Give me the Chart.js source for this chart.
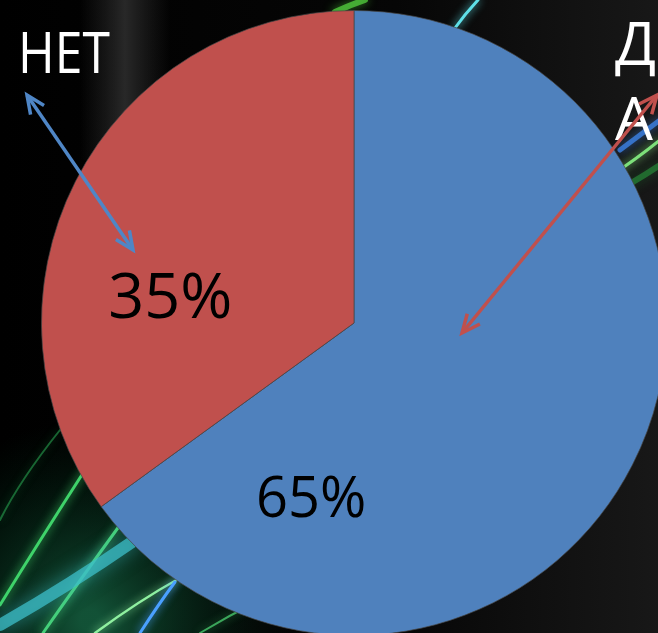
<!DOCTYPE html>
<html><head><meta charset="utf-8">
<script src="https://cdn.jsdelivr.net/npm/chart.js@4.4.0/dist/chart.umd.min.js"></script>
<style>
html,body{margin:0;padding:0;background:#000;overflow:hidden;width:658px;height:633px;}
#wrap{position:absolute;left:0;top:0;width:720px;height:660px;}
</style></head><body>
<div id="wrap"><canvas id="c"></canvas></div>
<script>
// ---- data ----
const categories = ['ДА', 'НЕТ'];
const shares = [65, 35];
const percentLabels = ['65%', '35%'];

// ---- styles / layout (not data) ----
const sliceColors = ['#4f81bd', '#c0504d'];
const arrowColors = ['#c0504d', '#4f86c6'];
const FONT = '"Open Sans", "Noto Sans", sans-serif';
// offsets relative to pie centre, in units of radius
const pctPos = [ {dx: -0.137, dy: 0.556, size: 56}, {dx: -0.588, dy: -0.09, size: 63} ];

function drawBackground(ctx, w, h) {
  const g = ctx.createLinearGradient(0, 0, w, 0);
  g.addColorStop(0, '#000');
  g.addColorStop(0.55, '#060606');
  g.addColorStop(1, '#1c1c1c');
  ctx.fillStyle = g;
  ctx.fillRect(0, 0, w, h);
  // soft grey vertical glow at top
  const gg = ctx.createLinearGradient(80, 0, 170, 0);
  gg.addColorStop(0, 'rgba(60,60,60,0)');
  gg.addColorStop(0.5, 'rgba(70,70,70,0.8)');
  gg.addColorStop(1, 'rgba(60,60,60,0)');
  ctx.save();
  ctx.fillStyle = gg;
  ctx.globalAlpha = 0.7;
  ctx.fillRect(80, 0, 90, 160);
  ctx.restore();
  // bottom-left green glow
  const rg = ctx.createRadialGradient(90, 620, 10, 90, 620, 200);
  rg.addColorStop(0, 'rgba(20,90,60,0.9)');
  rg.addColorStop(1, 'rgba(0,40,20,0)');
  ctx.fillStyle = rg;
  ctx.fillRect(0, 400, 330, 260);
  const streaks = [
    {p: [0, 605, 40, 540, 85, 470], c: '#3fd36a', w: 3, b: 10},
    {p: [43, 633, 80, 580, 120, 525], c: '#46d07a', w: 3, b: 10},
    {p: [0, 625, 70, 585, 135, 540], c: 'rgba(60,190,200,0.75)', w: 12, b: 18},
    {p: [95, 633, 140, 600, 180, 578], c: '#8ff0a0', w: 2.5, b: 8},
    {p: [140, 633, 158, 605, 175, 582], c: '#4aa0ff', w: 3, b: 8},
    {p: [0, 520, 20, 480, 60, 430], c: 'rgba(40,160,80,0.6)', w: 2, b: 8},
    {p: [200, 633, 230, 615, 260, 600], c: 'rgba(80,220,120,0.7)', w: 2, b: 8},
    {p: [455, 28, 465, 14, 478, 0], c: '#5fe0e8', w: 3, b: 8},
    {p: [335, 12, 350, 5, 365, 0], c: 'rgba(80,200,60,0.8)', w: 6, b: 10},
    {p: [612, 175, 635, 160, 660, 140], c: '#7de07a', w: 3, b: 10},
    {p: [620, 150, 640, 135, 660, 120], c: 'rgba(60,130,230,0.8)', w: 5, b: 10},
    {p: [600, 200, 630, 185, 660, 165], c: 'rgba(40,150,60,0.6)', w: 6, b: 12}
  ];
  ctx.save();
  ctx.lineCap = 'round';
  streaks.forEach(s => {
    ctx.shadowColor = s.c;
    ctx.shadowBlur = s.b;
    ctx.strokeStyle = s.c;
    ctx.lineWidth = s.w;
    ctx.beginPath();
    ctx.moveTo(s.p[0], s.p[1]);
    ctx.quadraticCurveTo(s.p[2], s.p[3], s.p[4], s.p[5]);
    ctx.stroke();
  });
  ctx.restore();
}

function arrowHead(ctx, x, y, ang) {
  const L = 20, a = 0.42;
  ctx.beginPath();
  ctx.moveTo(x - L * Math.cos(ang - a), y - L * Math.sin(ang - a));
  ctx.lineTo(x, y);
  ctx.lineTo(x - L * Math.cos(ang + a), y - L * Math.sin(ang + a));
  ctx.stroke();
}
function doubleArrow(ctx, x1, y1, x2, y2, color) {
  ctx.save();
  ctx.strokeStyle = color;
  ctx.lineWidth = 3.5;
  ctx.lineCap = 'butt';
  ctx.lineJoin = 'miter';
  ctx.beginPath();
  ctx.moveTo(x1, y1);
  ctx.lineTo(x2, y2);
  ctx.stroke();
  const ang = Math.atan2(y2 - y1, x2 - x1);
  arrowHead(ctx, x2, y2, ang);
  arrowHead(ctx, x1, y1, ang + Math.PI);
  ctx.restore();
}

const bgPlugin = {
  id: 'bg',
  beforeDraw(chart) {
    drawBackground(chart.ctx, chart.width, chart.height);
  }
};

const annPlugin = {
  id: 'ann',
  afterDraw(chart) {
    const ctx = chart.ctx;
    const arcs = chart.getDatasetMeta(0).data;
    const cx = arcs[0].x, cy = arcs[0].y, r = arcs[0].outerRadius;
    ctx.save();
    // percentage labels inside slices
    ctx.fillStyle = '#000';
    ctx.textAlign = 'center';
    ctx.textBaseline = 'alphabetic';
    percentLabels.forEach((t, i) => {
      const p = pctPos[i];
      ctx.font = p.size + 'px ' + FONT;
      ctx.fillText(t, cx + p.dx * r, cy + p.dy * r + p.size * 0.36);
    });
    // category labels
    ctx.fillStyle = '#fff';
    ctx.textAlign = 'left';
    ctx.font = '56px ' + FONT;
    ctx.save();
    ctx.translate(cx - 336, cy - 250);
    ctx.scale(0.89, 1);
    ctx.fillText(categories[1], 0, 0);
    ctx.restore();
    ctx.font = '60px ' + FONT;
    const chars = Array.from(categories[0]);
    chars.forEach((ch, k) => ctx.fillText(ch, cx + 261, cy - 258 + k * 75));
    // arrows
    doubleArrow(ctx, cx + 303, cy - 228, cx + 108, cy + 10, arrowColors[0]);
    doubleArrow(ctx, cx - 327, cy - 228, cx - 221, cy - 73, arrowColors[1]);
    ctx.restore();
  }
};

new Chart(document.getElementById('c'), {
  type: 'pie',
  data: {
    labels: categories,
    datasets: [{
      data: shares,
      backgroundColor: sliceColors,
      borderColor: 'rgba(70,70,70,0.7)',
      borderWidth: 1
    }]
  },
  options: {
    responsive: true,
    maintainAspectRatio: false,
    animation: false,
    layout: { padding: { left: 41, top: 10, right: 53, bottom: 24 } },
    plugins: { legend: { display: false }, tooltip: { enabled: false } }
  },
  plugins: [bgPlugin, annPlugin]
});
</script>
</body></html>
